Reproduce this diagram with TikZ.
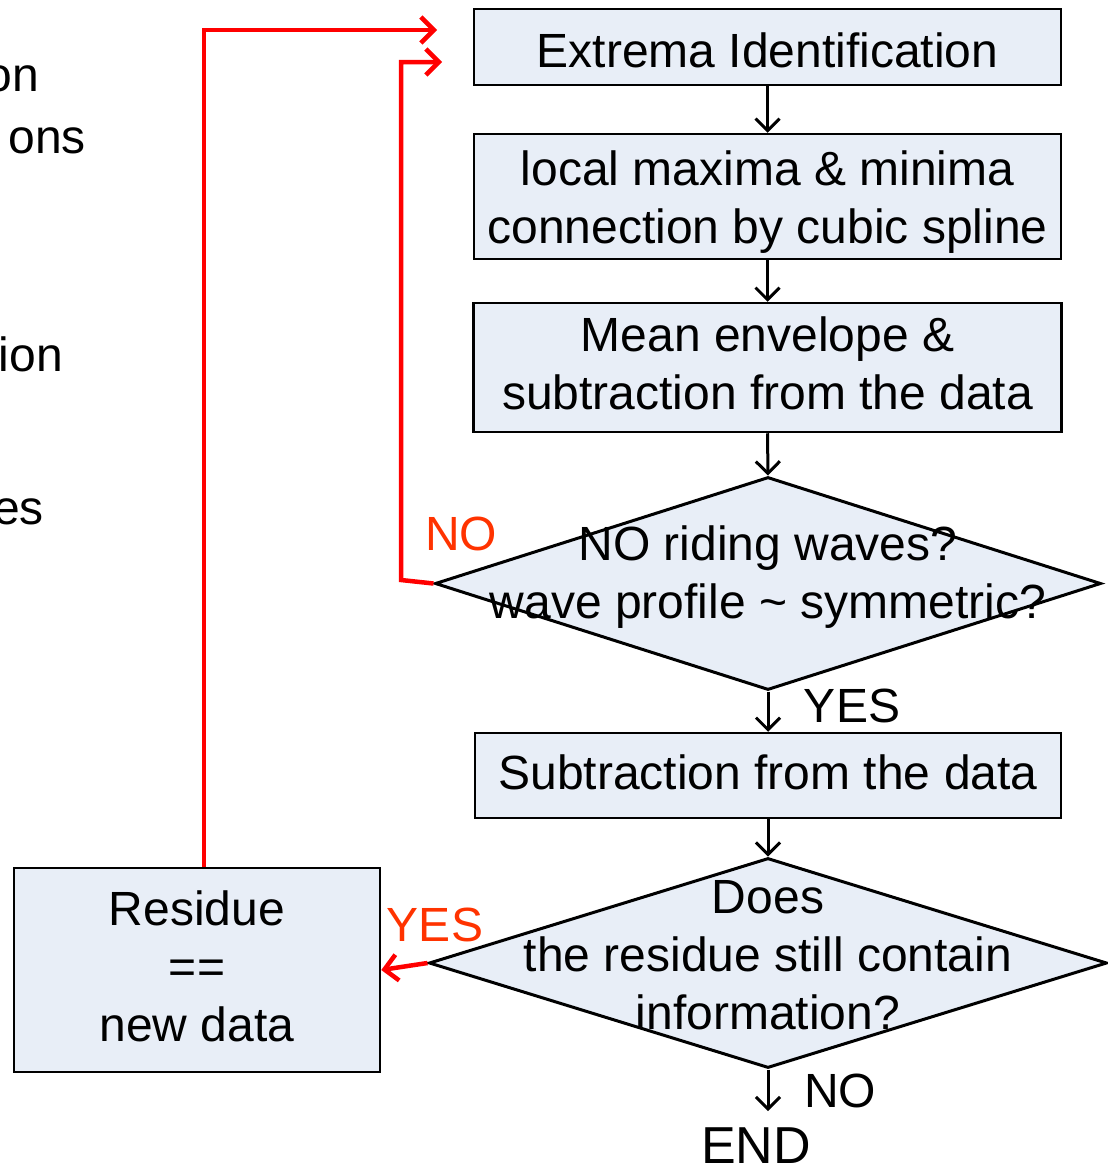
\documentclass[tikz,border=0pt]{standalone}
\usepackage{fontspec}
\setmainfont{Liberation Sans}
\usetikzlibrary{shapes.geometric,arrows.meta}
\definecolor{boxfill}{RGB}{232,238,247}
\definecolor{loopred}{RGB}{255,0,0}
\definecolor{labelred}{RGB}{255,51,0}
\tikzset{
  every node/.style={font=\fontsize{48}{58}\selectfont, inner sep=0pt},
  stepbox/.style={draw=black, line width=2.5pt, fill=boxfill, rectangle},
  testbox/.style={draw=black, line width=3pt, fill=boxfill, diamond},
  boxtext/.style={align=center},
  flow/.style={draw=black, line width=3pt, -{Straight Barb[length=12pt,width=24pt,line width=3pt]}},
  back/.style={draw=loopred, line width=4.5pt, -{Straight Barb[length=13pt,width=26pt,line width=4.5pt]}},
  redlabel/.style={text=labelred},
}
\begin{document}
\begin{tikzpicture}[x=1pt,y=-1pt]
\useasboundingbox (0,0) rectangle (1108,1167);
\begin{scope}
\clip (0,0) rectangle (1108,1167);
% words running in from the left margin
\node[anchor=base east] (w1) at (39,91) {on};
\node[anchor=base east] (w2) at (86,153) {ons};
\node[anchor=base east] (w3) at (63,371) {ion};
\node[anchor=base east] (w4) at (44,524) {es};
\end{scope}

% process boxes
\node[stepbox, minimum width=587pt, minimum height=76pt] (b1) at (767.5,47) {};
\node[boxtext] (b1t) at (767.5,50) {Extrema Identification};
\node[stepbox, minimum width=587pt, minimum height=125pt] (b2) at (767.5,196.5) {};
\node[boxtext] (b2t) at (767.5,202) {local maxima \& minima\\connection by cubic spline};
\node[stepbox, minimum width=588pt, minimum height=129pt] (b3) at (767.5,367.5) {};
\node[boxtext] (b3t) at (767.5,363) {Mean envelope \&\\subtraction from the data};
\node[stepbox, minimum width=586pt, minimum height=85pt] (b4) at (768,775.5) {};
\node[boxtext] (b4t) at (768,772) {Subtraction from the data};
\node[stepbox, minimum width=366pt, minimum height=204pt] (res) at (197,970) {};
\node[boxtext] (rest) at (197,966) {Residue\\==\\new data};

% decision diamonds
\node[testbox, minimum width=666pt, minimum height=213pt] (d1) at (768,583.5) {};
\node[boxtext] (d1t) at (768,577) {NO riding waves?\\wave profile \textasciitilde{} symmetric?};
\node[testbox, minimum width=678pt, minimum height=210pt] (d2) at (768,963) {};
\node[boxtext] (d2t) at (768,955) {Does\\the residue still contain\\information?};

\coordinate (endtop) at (768,1111);
\node[anchor=base, font=\fontsize{52}{60}\selectfont] (end) at (756,1163) {END};

% main flow
\draw[flow] (b1.south) -- (b2.north);
\draw[flow] (b2.south) -- (b3.north);
\draw[flow] (b3.south) -- (d1.north);
\draw[flow] (d1.south) -- (b4.north);
\draw[flow] (b4.south) -- (d2.north);
\draw[flow] (d2.south) -- (endtop);
\node (yes1) at (852,706) {YES};
\node (no2) at (840,1091) {NO};

% feedback loops
\draw[back] (d1.west) -- (401,580) -- (401,62) -- (442,62);
\node[redlabel] (no1) at (461,534) {NO};
\draw[back] (d2.west) -- (res.east);
\node[redlabel] (yes2) at (435,925) {YES};
\draw[back] (res.north -| 204,0) -- (204,30) -- (437,30);
\end{tikzpicture}
\end{document}
